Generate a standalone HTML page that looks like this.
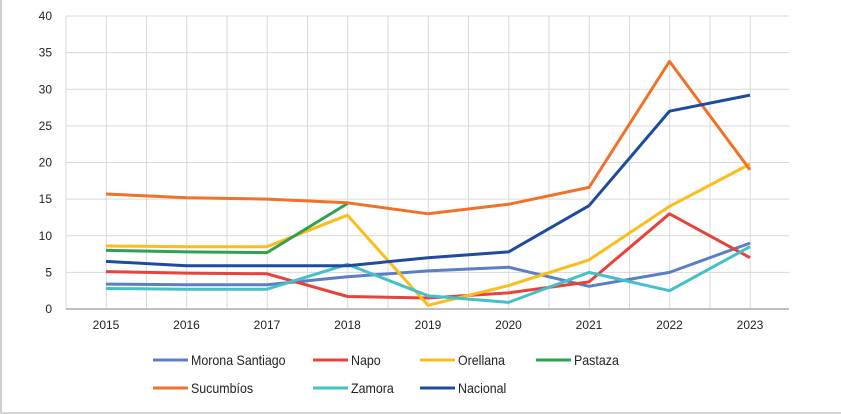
<!DOCTYPE html>
<html><head><meta charset="utf-8"><style>
body{margin:0;background:#fff;}
svg{display:block;font-family:"Liberation Sans",sans-serif;}
</style></head><body>
<svg id="chart" width="841" height="414" viewBox="0 0 841 414">
<line x1="1" y1="0" x2="1" y2="414" stroke="#cfcfcf" stroke-width="2"/>
<line x1="0" y1="413" x2="841" y2="413" stroke="#d6d6d6" stroke-width="2"/>
<g id="grid"></g>
<g id="yticks"></g>
<g id="xticks"></g>
<g id="series"></g>
<g id="legend"></g>
</svg>
<script>
const years = ["2015","2016","2017","2018","2019","2020","2021","2022","2023"];
const yTicks = [0,5,10,15,20,25,30,35,40];
const seriesNames = ["Morona Santiago","Napo","Orellana","Pastaza","Sucumbíos","Zamora","Nacional"];
const seriesColors = ["#5a7fc4","#e8423a","#fbbd1c","#2ea24e","#f07228","#43c0c8","#1f4b9e"];
const morona = [3.4,3.3,3.3,4.4,5.2,5.7,3.1,5.0,9.0];
const napo = [5.1,4.9,4.8,1.7,1.5,2.2,3.7,13.0,7.0];
const orellana = [8.6,8.5,8.5,12.8,0.5,3.2,6.7,14.0,19.8];
const pastaza = [8.0,7.8,7.7,14.4,null,null,null,null,null];
const sucumbios = [15.7,15.2,15.0,14.5,13.0,14.3,16.6,33.8,19.0];
const zamora = [2.8,2.7,2.7,6.1,1.8,0.9,5.0,2.5,8.5];
const nacional = [6.5,5.9,5.9,5.9,7.0,7.8,14.1,27.0,29.2];
const allSeries = [morona,napo,orellana,pastaza,sucumbios,zamora,nacional];
const drawOrder = [0,1,2,3,4,5,6];

const NS="http://www.w3.org/2000/svg";
const L=66,R=789,T=16,B=309;
const xs=i=>106+i*(750-106)/(years.length-1);
const ys=v=>B-(v/40)*(B-T);
function mk(t,a,p){const e=document.createElementNS(NS,t);for(const k in a)e.setAttribute(k,a[k]);p.appendChild(e);return e;}
const grid=document.getElementById('grid');
for(let x=L;x<=R+1;x+=(750-106)/(years.length-1)/2){
  const g=mk('line',{x1:x,y1:T,x2:x,y2:B,stroke:'#d9d9d9','stroke-width':1},grid);
  
  
}
const yt=document.getElementById('yticks');
yTicks.forEach(v=>{
  const g=mk('line',{x1:L,y1:ys(v),x2:R,y2:ys(v),stroke:v===0?'#bfbfbf':'#d9d9d9','stroke-width':v===0?2:1},grid);
  
  
  const t=mk('text',{x:52,y:ys(v)+4,'text-anchor':'end','font-size':12,fill:'#222'},yt);
  t.textContent=v;
  
  
});
const xt=document.getElementById('xticks');
years.forEach((y,i)=>{
  const t=mk('text',{x:xs(i),y:329,'text-anchor':'middle','font-size':12,fill:'#222'},xt);
  t.textContent=y;
  
  
});
const sg=document.getElementById('series');
drawOrder.forEach(s=>{
  const d=allSeries[s];let pts=[];
  d.forEach((v,i)=>{if(v!==null)pts.push(xs(i).toFixed(1)+','+ys(v).toFixed(1));});
  const p=mk('polyline',{points:pts.join(' '),fill:'none',stroke:seriesColors[s],'stroke-width':3,'stroke-linejoin':'round'},sg);
  
  
});
const lg=document.getElementById('legend');
const lx=[153,313,420,536];
seriesNames.forEach((n,i)=>{
  const c=i%4,r=Math.floor(i/4);const y=360+r*28;
  const g=mk('g',{},lg);
  
  
  mk('line',{x1:lx[c],y1:y,x2:lx[c]+35,y2:y,stroke:seriesColors[i],'stroke-width':3},g);
  const t=mk('text',{x:lx[c]+38,y:y+5,'font-size':13.5,fill:'#222',transform:'translate('+(lx[c]+38)+' 0) scale(0.92 1) translate('+(-(lx[c]+38))+' 0)'},g);
  t.textContent=n;
});
</script>
</body></html>
